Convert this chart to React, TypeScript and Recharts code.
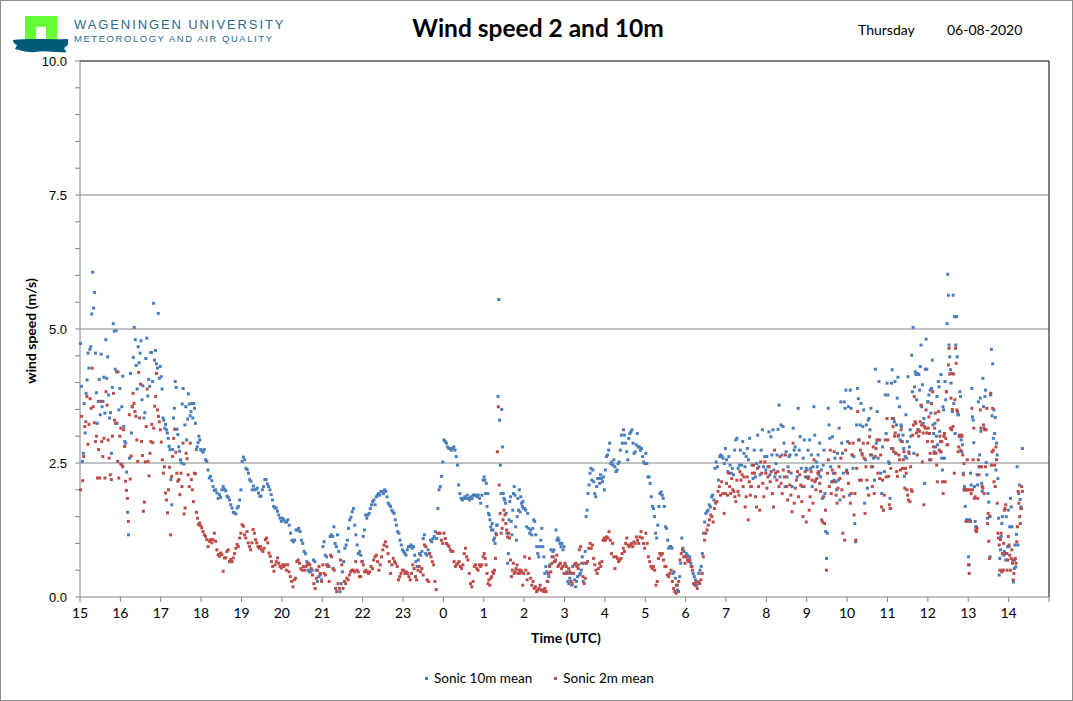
import React from 'react';
import { ScatterChart, Scatter, XAxis, YAxis, ReferenceLine } from 'recharts';

// hour-of-day for each row of readings (15:00 on day one to 14:00 next day)
const hourLabels = [15, 16, 17, 18, 19, 20, 21, 22, 23, 0, 1, 2, 3, 4, 5, 6, 7, 8, 9, 10, 11, 12, 13, 14];

// Sonic 10m mean, one row per hour, readings in time order
const sonic10m: number[][] = [
  [4.73, 3.93, 2.53, 2.68, 3.61, 3.06, 3.8, 4.05, 4.55, 4.27, 4.62, 4.67, 5.28, 6.06, 5.39, 5.68, 4.55, 3.81, 3.24, 3.65, 4.06, 3.4, 4.53, 3.55, 3.65, 4.1, 3.43, 4.8, 4.08, 4.48, 3.77, 3.34, 3.44, 2.68, 3.91, 5.1, 4.96, 4.25, 4.97, 3.24, 4.2, 3.49, 3.89],
  [2.48, 3.55, 4.12, 3.18, 2.9, 2.87, 2.33, 1.58, 1.16, 2.59, 4.17, 3.06, 3.55, 4.47, 5.03, 4.8, 4.32, 3.88, 4.67, 4.37, 4.55, 4.78, 3.68, 3.94, 3.34, 3.44, 4.45, 4.83, 3.75, 4.06, 3.93, 4.56, 4.56, 4.02, 5.48, 4.42, 4.6, 4.35, 4.27, 5.29, 4.08, 4.3],
  [4.11, 3.88, 3.34, 3.3, 3.15, 3.22, 3.12, 3.06, 2.96, 2.81, 2.75, 2.19, 1.72, 2.75, 3.34, 3.52, 4.02, 3.91, 3.13, 3.03, 2.8, 2.72, 2.56, 2.5, 3.6, 3.89, 2.48, 3.21, 3.55, 2.93, 3.32, 3.79, 3.6, 3.38, 3.46, 3.61, 3.34, 3.61, 3.52, 3.24, 2.75, 2.8, 2.88, 3.0, 2.93, 2.75],
  [2.73, 2.7, 2.75, 2.56, 2.53, 2.37, 2.22, 2.25, 2.17, 2.06, 1.99, 2.0, 1.94, 1.84, 1.91, 1.86, 2.0, 2.06, 2.01, 1.98, 1.88, 1.86, 1.81, 1.72, 1.66, 1.58, 1.57, 1.55, 1.66, 1.69, 1.81, 2.0],
  [2.53, 2.61, 2.56, 2.4, 2.38, 2.31, 2.19, 2.16, 2.0, 2.07, 2.0, 2.01, 2.03, 1.94, 1.88, 1.88, 2.0, 2.06, 2.19, 2.19, 2.11, 2.06, 2.0, 1.91, 1.81, 1.69, 1.66, 1.66, 1.6, 1.53, 1.47, 1.41],
  [1.47, 1.44, 1.4, 1.4, 1.44, 1.34, 1.19, 1.06, 1.03, 1.06, 1.25, 1.25, 1.28, 1.22, 1.06, 1.0, 0.85, 0.81, 0.66, 0.5, 0.47, 0.47, 0.5, 0.69, 0.66, 0.5, 0.29, 0.38, 0.41, 0.32],
  [0.94, 1.03, 0.78, 0.75, 0.6, 0.57, 1.13, 1.16, 1.13, 1.31, 1.0, 0.94, 1.16, 0.85, 0.1, 0.25, 0.47, 0.66, 0.91, 0.97, 1.06, 1.28, 1.44, 1.49, 1.59, 1.65, 1.34, 1.16, 0.97, 0.81, 0.85, 0.78, 0.66],
  [1.13, 1.25, 1.53, 1.47, 1.53, 1.56, 1.65, 1.72, 1.78, 1.81, 1.72, 1.87, 1.9, 1.93, 1.9, 1.97, 1.97, 1.93, 2.0, 1.97, 1.87, 1.75, 1.72, 1.69, 1.62, 1.59, 1.56, 1.44, 1.34, 1.22, 1.19, 1.06, 0.97, 0.88],
  [0.85, 0.81, 0.78, 0.88, 0.94, 0.94, 0.97, 0.91, 0.94, 0.78, 0.66, 0.57, 0.69, 0.81, 0.78, 0.85, 1.09, 1.16, 0.81, 0.78, 0.88, 0.81, 1.06, 1.03, 1.09, 1.13, 1.22, 1.09, 1.65, 2.0, 2.06, 2.25, 2.52],
  [2.93, 2.9, 2.87, 2.8, 2.77, 2.77, 2.74, 2.77, 2.8, 2.74, 2.62, 2.46, 2.09, 1.93, 1.84, 1.81, 1.84, 1.87, 1.84, 1.9, 1.84, 1.81, 1.87, 1.84, 1.9, 1.9, 1.9, 1.87, 1.9, 1.84, 1.75, 1.9, 2.18],
  [2.24, 2.18, 1.93, 2.12, 1.69, 1.93, 1.56, 1.53, 1.44, 1.31, 1.25, 1.37, 1.25, 1.06, 1.1, 1.0, 1.19, 1.34, 1.34, 3.74, 5.55, 3.3, 2.46, 1.93, 3.5, 2.8, 1.93, 1.84, 1.81, 1.75, 1.56, 1.19, 0.63, 0.81, 1.44, 1.78, 1.87, 1.41, 1.16, 1.62, 1.93, 2.06, 1.9, 1.31, 1.06, 1.5, 1.84, 1.62, 2.0, 1.59, 1.87, 1.75, 1.69, 1.78, 1.65],
  [1.65, 1.62, 1.31, 1.56, 1.28, 1.19, 1.25, 1.16, 1.28, 1.44, 1.41, 1.16, 0.94, 0.81, 0.75, 0.94, 1.06, 1.28, 0.94, 0.75, 0.44, 0.57, 0.47, 0.29, 0.38, 0.6, 0.88, 0.75, 0.85, 0.88, 0.66, 1.25, 1.06, 1.1, 1.06, 1.0, 0.94, 1.0, 0.88, 0.94],
  [0.6, 0.44, 0.47, 0.29, 0.25, 0.35, 0.44, 0.22, 0.57, 0.44, 0.32, 0.19, 0.29, 0.38, 0.6, 0.41, 0.44, 0.5, 0.75, 0.29, 0.63, 0.85, 1.5, 1.62, 1.93, 2.09, 2.31, 2.4, 2.18, 2.37, 2.15, 1.93, 1.87, 2.06, 2.21, 2.21, 2.12, 2.28, 2.21, 2.15, 2.24, 2.0],
  [2.37, 2.62, 2.65, 2.74, 2.87, 2.49, 2.52, 2.46, 2.56, 2.43, 2.34, 2.37, 2.49, 2.52, 2.74, 3.02, 2.87, 3.12, 3.02, 2.87, 2.71, 2.56, 2.96, 3.05, 3.08, 3.12, 2.87, 2.68, 2.71, 2.84, 3.05, 2.8, 2.8, 2.74, 2.77, 2.62, 2.52, 2.49],
  [2.68, 2.49, 2.24, 2.24, 2.12, 1.87, 1.69, 1.65, 1.5, 1.19, 1.1, 1.34, 1.69, 1.93, 1.96, 1.9, 1.84, 1.69, 1.31, 1.28, 1.06, 0.91, 0.94, 0.94, 0.91, 0.44, 0.47, 0.35, 0.22, 0.13, 0.1, 0.38, 0.63, 1.1, 0.91, 0.85, 0.75],
  [0.81, 0.78, 0.69, 0.75, 0.63, 0.57, 0.44, 0.38, 0.32, 0.22, 0.28, 0.44, 0.5, 0.57, 0.81, 1.19, 1.4, 1.56, 1.59, 1.62, 1.72, 1.68, 1.87, 1.9, 1.81, 2.4, 2.52, 2.43, 2.18, 2.62, 2.65, 2.62, 2.59, 2.49, 2.77],
  [2.56, 2.34, 2.62, 2.46, 2.31, 2.4, 2.28, 2.74, 2.93, 2.96, 2.4, 2.46, 2.74, 2.46, 2.9, 2.68, 2.43, 2.62, 2.77, 2.56, 2.96, 2.06, 2.46, 2.21, 2.74, 2.24, 2.49, 3.02, 2.43, 2.28, 2.74, 3.12, 2.43, 2.62, 2.37],
  [2.62, 2.43, 3.08, 2.28, 2.99, 2.65, 3.12, 2.37, 2.24, 2.49, 2.65, 3.13, 3.58, 2.24, 3.21, 2.65, 3.18, 2.87, 2.06, 2.71, 2.24, 2.43, 2.62, 2.65, 2.31, 2.06, 3.15, 2.74, 2.8, 2.65, 2.24, 3.52, 2.74, 2.99, 2.4, 2.06, 2.59, 2.93, 2.24, 2.4],
  [2.37, 2.74, 2.24, 2.93, 2.4, 2.65, 2.06, 2.43, 3.55, 3.02, 2.18, 2.52, 2.43, 2.65, 2.28, 2.87, 2.24, 2.37, 1.84, 2.46, 2.74, 1.93, 1.22, 0.72, 1.19, 3.52, 3.21, 2.96, 2.43, 2.15, 2.99, 2.31, 2.18, 2.59, 2.15, 2.0, 2.68, 2.18, 3.15, 1.81, 3.64, 2.87, 2.68, 2.31, 3.64, 3.52, 3.86, 2.37],
  [2.9, 3.55, 1.9, 3.86, 3.52, 2.65, 2.4, 2.62, 1.37, 1.03, 3.21, 3.89, 3.7, 2.93, 3.21, 3.61, 2.68, 3.18, 3.49, 1.75, 2.56, 3.21, 2.03, 3.3, 3.33, 3.12, 3.52, 2.65, 2.43, 2.59, 2.18, 4.25, 2.87, 3.46, 2.59, 4.02, 2.93, 2.31, 1.93, 2.8, 1.62, 2.34, 3.77, 3.05, 3.99],
  [3.77, 2.52, 2.49, 1.84, 1.65, 3.99, 4.24, 2.77, 3.33, 3.27, 4.02, 2.68, 3.21, 3.71, 4.1, 3.02, 3.55, 2.93, 3.21, 3.18, 2.9, 3.02, 2.77, 2.25, 2.62, 3.4, 2.59, 2.9, 4.11, 2.71, 2.8, 3.12, 3.0, 4.51, 3.83, 5.03, 2.68, 3.92, 4.2, 4.15, 3.68, 4.17, 3.12, 4.15, 3.86, 4.3, 4.7, 3.55, 3.96, 3.24, 3.33, 2.12, 4.25, 4.81, 4.25, 3.64],
  [3.64, 3.77, 2.56, 3.86, 3.43, 3.89, 4.42, 3.21, 3.05, 2.71, 3.24, 2.8, 3.0, 3.74, 2.84, 4.02, 3.92, 3.09, 2.71, 4.15, 2.59, 2.37, 3.55, 3.49, 2.59, 4.02, 3.68, 3.83, 5.1, 6.02, 5.63, 4.7, 4.48, 4.24, 3.99, 4.17, 3.46, 5.63, 3.61, 5.23, 3.05, 4.7, 5.23, 4.48, 3.4, 3.4, 2.99, 3.83, 3.74, 2.93, 2.71, 2.84, 2.31, 2.0, 2.06, 1.69, 2.0, 1.44, 1.41, 1.44],
  [0.75, 0.6, 1.44, 2.31, 2.09, 3.89, 3.36, 3.3, 2.88, 2.06, 1.41, 1.31, 1.31, 2.28, 2.09, 3.64, 2.43, 2.65, 3.71, 3.09, 2.12, 1.97, 4.08, 3.55, 3.15, 3.74, 3.86, 2.51, 2.28, 1.47, 1.93, 1.77, 1.51, 0.75, 3.77, 4.62, 3.38, 4.35, 2.96, 3.49, 3.05, 3.35, 2.37, 2.87, 2.65, 2.21, 1.47, 0.41, 0.72, 0.88, 1.13, 1.37, 1.5, 0.5, 0.78, 0.85, 0.81, 0.69, 1.5, 0.81, 0.94, 1.62],
  [0.94, 1.31, 1.84, 1.68, 1.31, 0.69, 0.28, 0.53, 0.97, 0.56, 1.17, 2.43, 0.97, 1.93, 2.09, 1.82, 1.68, 1.65, 2.77],
];

// Sonic 2m mean, same layout
const sonic2m: number[][] = [
  [2.0, 3.37, 2.17, 2.62, 3.18, 3.27, 3.74, 2.85, 3.22, 3.7, 3.52, 4.27, 3.55, 3.25, 2.9, 3.0, 2.22, 2.75, 2.22, 3.65, 2.9, 2.62, 2.96, 2.22, 3.83, 3.58, 2.93, 2.59, 2.28, 2.19, 3.0, 3.8, 3.3, 3.24, 4.2, 2.53, 2.22, 3.0],
  [3.15, 2.47, 2.43, 3.12, 2.81, 2.16, 1.99, 1.84, 1.41, 3.4, 2.2, 2.63, 3.55, 3.8, 3.61, 3.46, 3.37, 2.93, 2.53, 4.19, 3.34, 3.97, 2.9, 2.64, 1.6, 1.77, 2.52, 3.18, 3.88, 2.53, 2.26, 2.68, 2.9, 3.22, 2.88, 3.15, 3.56, 3.74, 4.17, 3.49, 3.37, 3.27, 3.12],
  [2.89, 2.56, 2.31, 2.43, 1.94, 1.81, 1.57, 2.0, 2.42, 1.16, 2.25, 2.62, 2.96, 3.13, 2.7, 2.31, 2.16, 2.19, 1.91, 2.31, 2.06, 2.87, 1.55, 1.66, 2.68, 2.58, 2.28, 2.06, 2.87, 2.19, 2.0, 1.78, 2.31, 2.3, 1.58, 1.47, 1.35, 1.38, 1.33],
  [1.29, 1.22, 1.16, 1.13, 1.07, 0.94, 1.04, 1.07, 1.01, 1.07, 1.19, 1.04, 0.88, 0.79, 0.76, 0.82, 0.79, 0.48, 0.73, 0.73, 0.85, 0.88, 0.66, 0.7, 0.66, 0.73, 0.81, 0.91, 0.98, 0.94, 1.1, 1.19],
  [1.35, 1.32, 1.16, 1.1, 1.22, 1.01, 0.94, 0.88, 1.01, 1.26, 1.19, 1.07, 1.01, 0.94, 0.91, 0.94, 0.88, 0.85, 0.91, 1.07, 1.1, 1.01, 0.82, 0.76, 0.66, 0.57, 0.48, 0.6, 0.66, 0.73, 0.63, 0.57, 0.54],
  [0.6, 0.57, 0.6, 0.5, 0.6, 0.47, 0.38, 0.29, 0.19, 0.32, 0.35, 0.66, 0.69, 0.63, 0.53, 0.5, 0.57, 0.5, 0.57, 0.6, 0.63, 0.6, 0.53, 0.41, 0.25, 0.16, 0.35, 0.5, 0.57, 0.44, 0.29],
  [0.6, 0.44, 0.41, 0.6, 0.57, 0.29, 0.78, 0.75, 0.53, 0.5, 0.16, 0.1, 0.25, 0.16, 0.69, 0.6, 0.16, 0.29, 0.25, 0.35, 0.32, 0.41, 0.47, 0.5, 0.5, 0.47, 0.66, 0.5, 0.47, 0.38, 0.38, 0.66],
  [0.6, 0.47, 0.5, 0.47, 0.44, 0.47, 0.57, 0.53, 0.69, 0.75, 0.78, 0.66, 0.5, 0.6, 0.75, 0.88, 0.97, 1.03, 0.94, 0.81, 0.66, 0.44, 0.6, 0.72, 0.66, 0.63, 0.57, 0.32, 0.38, 0.44, 0.5],
  [0.5, 0.44, 0.47, 0.44, 0.38, 0.32, 0.44, 0.6, 0.53, 0.38, 0.32, 0.5, 0.57, 0.47, 0.53, 0.41, 0.97, 0.94, 0.32, 0.29, 0.81, 0.75, 0.66, 0.6, 0.29, 0.14, 1.19, 1.19, 1.19, 1.06, 1.0],
  [1.19, 1.09, 1.0, 0.97, 0.94, 0.88, 0.85, 0.85, 0.66, 0.57, 0.6, 0.63, 0.66, 0.57, 0.53, 0.6, 0.81, 0.91, 0.75, 0.69, 0.44, 0.25, 0.19, 0.29, 0.57, 0.6, 0.53, 0.5, 0.6, 0.57, 0.6, 0.75],
  [0.81, 0.72, 0.6, 0.44, 0.25, 0.32, 0.22, 0.35, 0.38, 0.47, 0.44, 0.5, 0.72, 1.16, 2.71, 3.55, 2.09, 1.56, 1.19, 1.28, 1.44, 1.62, 1.53, 1.37, 1.25, 1.12, 1.19, 1.1, 0.69, 0.38, 0.5, 0.63, 0.44, 0.47, 0.53, 0.6, 0.44, 0.5, 0.44, 0.5, 0.47, 0.22, 0.44],
  [0.75, 0.5, 0.32, 0.44, 0.72, 0.35, 0.22, 0.29, 0.16, 0.19, 0.1, 0.13, 0.16, 0.22, 0.13, 0.13, 0.1, 0.16, 0.1, 0.29, 0.44, 0.57, 0.47, 0.63, 0.75, 0.66, 0.69, 0.78, 0.57, 0.6, 0.63, 0.53, 0.57, 0.44],
  [0.63, 0.57, 0.44, 0.53, 0.47, 0.29, 0.25, 0.44, 0.6, 0.63, 0.57, 0.53, 0.88, 0.94, 0.63, 0.38, 0.25, 0.35, 0.63, 0.66, 0.91, 1.0, 0.91, 0.97, 0.72, 0.6, 0.5, 0.44, 0.53, 0.63, 0.57, 0.66, 1.06, 1.1],
  [1.06, 1.12, 1.1, 1.22, 1.06, 0.81, 1.0, 0.75, 0.53, 0.75, 0.72, 0.66, 0.69, 0.72, 0.81, 0.91, 0.85, 1.0, 1.1, 0.97, 0.94, 0.97, 1.0, 0.94, 1.03, 1.0, 1.12, 1.06, 1.0, 1.12, 1.22, 1.1, 1.0, 0.91],
  [1.19, 1.0, 0.75, 0.66, 0.57, 0.53, 0.57, 0.5, 0.22, 0.29, 0.72, 0.81, 0.78, 0.81, 0.69, 0.57, 0.57, 0.41, 0.38, 0.44, 0.5, 0.29, 0.16, 0.1, 0.07, 0.22, 0.29, 0.69, 0.81, 0.88, 0.75, 0.63],
  [0.75, 0.69, 0.66, 0.69, 0.57, 0.5, 0.25, 0.22, 0.28, 0.16, 0.28, 0.25, 0.32, 0.44, 0.75, 1.06, 1.19, 1.25, 1.34, 1.44, 1.53, 1.5, 1.4, 1.65, 1.75, 1.78, 1.97, 2.06, 1.9, 2.15, 1.93, 1.56, 1.93],
  [2.12, 1.9, 2.31, 2.06, 1.93, 2.21, 2.0, 1.97, 1.87, 1.78, 2.18, 1.97, 1.9, 2.34, 2.18, 2.28, 2.06, 2.24, 1.68, 1.87, 2.24, 1.44, 2.15, 1.9, 2.06, 2.31, 2.46, 2.31, 1.87, 1.68, 2.4, 2.06, 1.62, 2.52, 2.31, 2.12, 1.87, 2.52, 2.31],
  [2.03, 2.24, 2.43, 2.15, 2.34, 1.93, 1.68, 2.74, 2.31, 2.18, 2.34, 2.06, 2.62, 2.12, 1.93, 2.37, 2.24, 2.65, 2.06, 1.81, 2.34, 2.09, 1.9, 1.59, 2.87, 1.75, 2.03, 2.18, 2.34, 1.87, 2.28, 2.09, 1.78, 1.5, 2.06, 2.34, 1.4],
  [2.24, 2.21, 1.62, 1.87, 2.34, 2.18, 1.75, 2.56, 2.15, 2.0, 2.21, 2.31, 2.34, 2.12, 1.97, 1.44, 1.4, 1.87, 1.37, 1.62, 0.5, 2.31, 2.56, 2.06, 2.74, 1.93, 2.37, 2.15, 2.71, 2.31, 1.9, 1.75, 2.03, 2.43, 2.21, 2.59, 2.0, 1.19, 1.87, 1.06, 2.74, 2.34],
  [2.31, 2.12, 2.87, 1.75, 1.93, 2.65, 2.87, 1.53, 1.93, 1.06, 2.4, 3.46, 2.93, 2.18, 2.74, 2.18, 2.65, 2.87, 2.59, 1.56, 2.43, 2.18, 2.87, 1.9, 2.99, 2.65, 2.43, 2.06, 2.8, 1.93, 2.62, 2.77, 2.93, 2.31, 2.93, 2.21, 2.65, 1.68, 2.18, 1.62, 1.9, 2.93, 2.24, 3.33],
  [2.93, 2.25, 1.72, 1.65, 2.4, 2.77, 3.33, 3.18, 2.71, 3.0, 3.06, 2.68, 2.34, 2.25, 3.0, 2.65, 2.56, 2.37, 3.12, 2.9, 2.4, 2.56, 2.71, 2.03, 2.4, 2.31, 2.0, 1.9, 1.81, 2.68, 1.78, 2.43, 2.0, 1.97, 3.02, 3.21, 3.74, 3.27, 3.24, 3.06, 2.65, 3.12, 3.0, 3.09, 3.27, 3.58, 3.21, 2.52, 3.06, 1.72, 3.18, 3.15, 3.49, 3.06, 2.9],
  [3.15, 3.36, 3.05, 2.68, 2.56, 3.61, 2.9, 3.83, 2.8, 2.68, 3.15, 3.43, 2.68, 2.46, 2.15, 3.3, 3.46, 2.74, 3.0, 2.9, 2.71, 2.9, 2.15, 1.93, 3.0, 3.05, 2.15, 2.96, 3.83, 2.84, 2.84, 4.33, 4.64, 4.16, 3.15, 3.71, 3.12, 3.5, 3.18, 4.16, 2.31, 3.68, 4.64, 4.36, 3.49, 3.46, 2.71, 2.8, 3.02, 3.0, 2.74, 3.02, 3.0, 2.65, 2.28, 2.49, 2.0, 2.0, 1.41, 2.0, 2.56, 2.0],
  [0.6, 0.44, 2.0, 1.41, 1.93, 3.52, 2.0, 2.56, 3.15, 1.84, 1.87, 1.25, 1.22, 1.28, 1.84, 2.56, 2.28, 2.43, 3.49, 3.15, 2.43, 2.06, 2.03, 3.21, 1.93, 3.12, 2.43, 3.12, 3.52, 1.37, 1.56, 1.04, 0.72, 1.5, 3.8, 2.46, 2.71, 3.52, 2.74, 2.15, 2.46, 2.06, 2.8, 2.56, 1.75, 1.19, 1.1, 0.97, 0.5, 1.07, 1.19, 0.47, 0.81, 0.5, 1.0, 1.62, 1.65, 1.72, 0.81, 0.5, 0.69, 1.13],
  [0.97, 0.78, 0.5, 0.72, 0.88, 0.63, 0.32, 0.44, 0.69, 0.72, 0.63, 1.03, 1.31, 1.97, 1.75, 1.5, 1.37, 1.65, 2.06, 1.97],
];

// the record stops part way through the last hour
const lastHourMinutes = 21;

const yTicks = [0, 0.5, 1, 1.5, 2, 2.5, 3, 3.5, 4, 4.5, 5, 5.5, 6, 6.5, 7, 7.5, 8, 8.5, 9, 9.5, 10];
const xTicks = hourLabels.map((_, i) => i).concat([24]);

function toPoints(rows: number[][]) {
  const pts: { t: number; v: number }[] = [];
  rows.forEach((row, h) => {
    const span = h === rows.length - 1 ? lastHourMinutes / 60 : 1;
    row.forEach((v, k) => pts.push({ t: h + ((k + 0.5) / row.length) * span, v }));
  });
  return pts;
}

const data10m = toPoints(sonic10m);
const data2m = toPoints(sonic2m);

const Square = (props: any) => {
  const { cx, cy, fill } = props;
  if (cx == null || cy == null) return null;
  return <rect x={cx - 1.5} y={cy - 1.5} width={3} height={3} fill={fill} />;
};

const Logo = () => (
  <svg width={72} height={56} style={{ position: 'absolute', left: 0, top: 0 }}>
    <path d="M25 16 H57 V42 H46 V27 H36 V42 H25 Z" fill="#66ff33" />
    <path d="M13 40 C30 38 50 40 68 39 L68 45 C64 47 63 49 67 52 C55 53 45 50 35 52 C28 53 20 50 15 49 L17 45 C14 44 13 42 13 40 Z" fill="#005a78" />
  </svg>
);

export default function App() {
  const axisGrey = '#868686';
  return (
    <div style={{ position: 'absolute', left: 0, top: 0, width: 1073, height: 701, background: '#fff', fontFamily: 'Lato, "Liberation Sans", sans-serif' }}>
      <div style={{ position: 'absolute', inset: 0, border: '1px solid #8c8c8c', boxSizing: 'border-box' }} />
      <Logo />
      <div style={{ position: 'absolute', left: 74, top: 17, fontFamily: '"Liberation Sans", Arial', fontSize: 13, letterSpacing: 1.9, color: '#2a6b8a', whiteSpace: 'nowrap' }}>
        WAGENINGEN UNIVERSITY
      </div>
      <div style={{ position: 'absolute', left: 74, top: 33, fontFamily: '"Liberation Sans", Arial', fontSize: 9.5, letterSpacing: 1.55, color: '#2a6b8a', whiteSpace: 'nowrap' }}>
        METEOROLOGY AND AIR QUALITY
      </div>
      <div style={{ position: 'absolute', left: 338, width: 400, top: 13, textAlign: 'center', fontSize: 24.5, fontWeight: 700, color: '#000' }}>
        Wind speed 2 and 10m
      </div>
      <div style={{ position: 'absolute', left: 858, top: 21, fontSize: 14, color: '#000' }}>Thursday</div>
      <div style={{ position: 'absolute', left: 947, top: 21, fontSize: 14, color: '#000' }}>06-08-2020</div>

      <div style={{ position: 'absolute', left: 0, top: 0 }}>
        <ScatterChart width={1073} height={701} margin={{ top: 61, right: 24, bottom: 74, left: 30 }}>
          <XAxis
            type="number"
            dataKey="t"
            domain={[0, 24]}
            ticks={xTicks}
            tickFormatter={(v: number) => (v === 24 ? '' : String(hourLabels[v]))}
            height={30}
            tickSize={5}
            tickMargin={6}
            stroke={axisGrey}
            tick={{ fontSize: 14, fill: '#000', fontFamily: 'Lato' }}
            interval={0}
          />
          <YAxis
            type="number"
            dataKey="v"
            domain={[0, 10]}
            ticks={yTicks}
            tickFormatter={(v: number) => (v % 2.5 === 0 ? v.toFixed(1) : '')}
            width={50}
            tickSize={5}
            tickMargin={8}
            stroke={axisGrey}
            tick={{ fontSize: 13, fill: '#000', fontFamily: '"Liberation Sans"' }}
            interval={0}
          />
          <ReferenceLine y={2.5} stroke={axisGrey} />
          <ReferenceLine y={5} stroke={axisGrey} />
          <ReferenceLine y={7.5} stroke={axisGrey} />
          <ReferenceLine y={10} stroke="#000" />
          <ReferenceLine x={24} stroke="#000" />
          <Scatter name="Sonic 10m mean" data={data10m} fill="#4a7ebb" shape={Square} isAnimationActive={false} />
          <Scatter name="Sonic 2m mean" data={data2m} fill="#be4b48" shape={Square} isAnimationActive={false} />
        </ScatterChart>
      </div>

      <div style={{ position: 'absolute', left: 30, top: 331, transform: 'translate(-50%, -50%) rotate(-90deg)', fontSize: 14, fontWeight: 700, whiteSpace: 'nowrap' }}>
        wind speed (m/s)
      </div>
      <div style={{ position: 'absolute', left: 566, top: 637, transform: 'translate(-50%, -50%)', fontSize: 14, fontWeight: 700, whiteSpace: 'nowrap' }}>
        Time (UTC)
      </div>
      <div style={{ position: 'absolute', left: 425, top: 670, fontSize: 13.5, whiteSpace: 'nowrap', display: 'flex', alignItems: 'center' }}>
        <span style={{ display: 'inline-block', width: 3, height: 3, background: '#4a7ebb', marginRight: 6 }} />
        <span>Sonic 10m mean</span>
        <span style={{ display: 'inline-block', width: 3, height: 3, background: '#be4b48', marginLeft: 22, marginRight: 6 }} />
        <span>Sonic 2m mean</span>
      </div>
    </div>
  );
}
